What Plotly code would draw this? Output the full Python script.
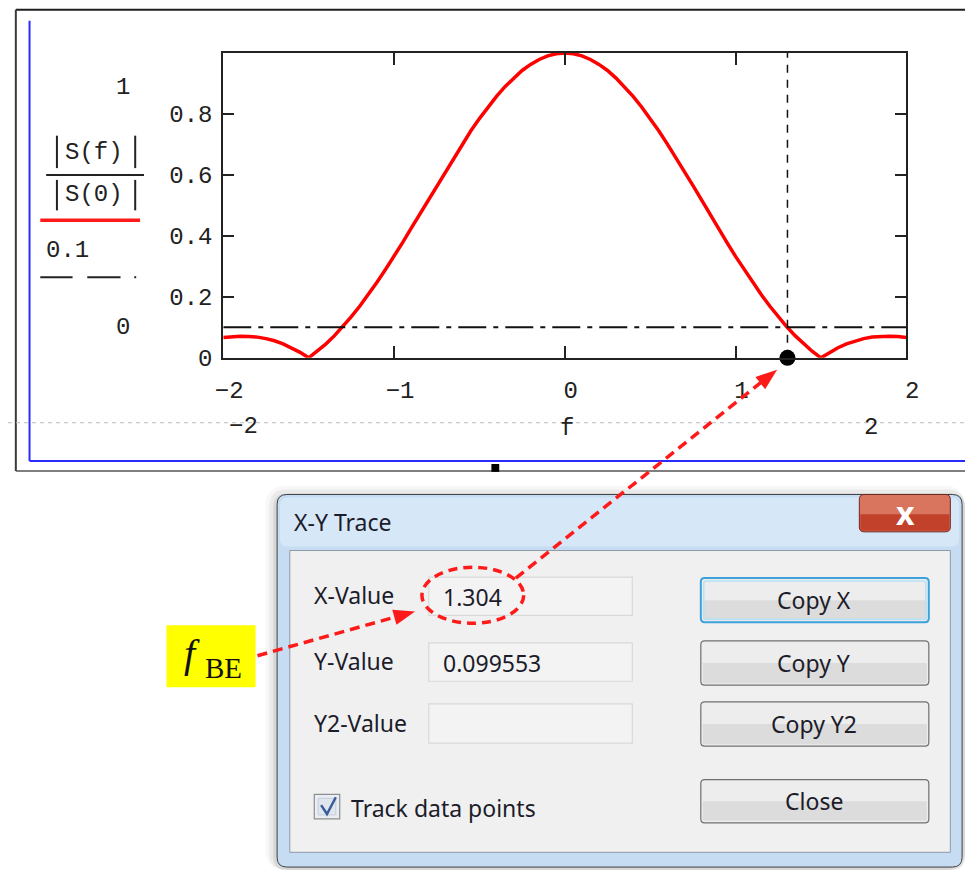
import math
import plotly.graph_objects as go

# ---- data -------------------------------------------------------------
f_hz = [-2.00, -1.95, -1.90, -1.85, -1.80, -1.75, -1.70, -1.65, -1.60, -1.55,
        -1.50, -1.45, -1.40, -1.35, -1.30, -1.25, -1.20, -1.15, -1.10, -1.05,
        -1.00, -0.95, -0.90, -0.85, -0.80, -0.75, -0.70, -0.65, -0.60, -0.55,
        -0.50, -0.45, -0.40, -0.35, -0.30, -0.25, -0.20, -0.15, -0.10, -0.05,
        0.00, 0.05, 0.10, 0.15, 0.20, 0.25, 0.30, 0.35, 0.40, 0.45,
        0.50, 0.55, 0.60, 0.65, 0.70, 0.75, 0.80, 0.85, 0.90, 0.95,
        1.00, 1.05, 1.10, 1.15, 1.20, 1.25, 1.30, 1.35, 1.40, 1.45,
        1.50, 1.55, 1.60, 1.65, 1.70, 1.75, 1.80, 1.85, 1.90, 1.95, 2.00]

s_ratio = [0.067, 0.070, 0.071, 0.070, 0.068, 0.063, 0.056, 0.046, 0.033, 0.018,
           0.000, 0.021, 0.045, 0.072, 0.102, 0.135, 0.170, 0.208, 0.248, 0.290,
           0.333, 0.378, 0.425, 0.471, 0.519, 0.566, 0.612, 0.658, 0.702, 0.745,
           0.785, 0.823, 0.858, 0.890, 0.918, 0.943, 0.963, 0.979, 0.991, 0.998,
           1.000, 0.998, 0.991, 0.979, 0.963, 0.943, 0.918, 0.890, 0.858, 0.823,
           0.785, 0.745, 0.702, 0.658, 0.612, 0.566, 0.519, 0.471, 0.425, 0.378,
           0.333, 0.290, 0.248, 0.208, 0.170, 0.135, 0.102, 0.072, 0.045, 0.021,
           0.000, 0.018, 0.033, 0.046, 0.056, 0.063, 0.068, 0.070, 0.071, 0.070, 0.067]

level = 0.1                      # threshold drawn as the dash-dot line
trace_x = 1.304                  # X-Y trace cursor position
trace_y = 0.099553               # value at the cursor
x_ticks = [-2, -1, 0, 1, 2]
x_ticktext = ["\u22122", "\u22121", "0", "1", "2"]
y_ticks = [0, 0.2, 0.4, 0.6, 0.8]
y_ticktext = ["0", "0.2", "0.4", "0.6", "0.8"]
x_lim = (-2, 2)
y_lim = (0, 1)

# ---- page geometry helpers (pixel -> paper) ---------------------------
W, H = 979, 886


def px(x):
    return min(max(x, 0), W) / W


def py(y):
    return 1 - min(max(y, 0), H) / H


MONO = "Liberation Mono"
UI = "Noto Sans"
SERIF = "Liberation Serif"
INK = "#222222"
UI_INK = "#1c1c2a"
RED = "#ff1a1a"

shapes = []
annotations = []


def line(x0, y0, x1, y1, color, width=1, dash=None):
    d = dict(type="line", xref="paper", yref="paper",
             x0=px(x0), y0=py(y0), x1=px(x1), y1=py(y1),
             line=dict(color=color, width=width))
    if dash:
        d["line"]["dash"] = dash
    shapes.append(d)


def rect(x0, y0, x1, y1, fill, color=None, width=0):
    shapes.append(dict(type="rect", xref="paper", yref="paper",
                       x0=px(x0), y0=py(y0), x1=px(x1), y1=py(y1),
                       fillcolor=fill,
                       line=dict(color=color or fill, width=width)))


def rrect(x0, y0, x1, y1, r, fill, color=None, width=0):
    def P(x, y):
        return f"{px(x):.6f},{py(y):.6f}"
    path = (f"M {P(x0 + r, y0)} L {P(x1 - r, y0)} Q {P(x1, y0)} {P(x1, y0 + r)} "
            f"L {P(x1, y1 - r)} Q {P(x1, y1)} {P(x1 - r, y1)} "
            f"L {P(x0 + r, y1)} Q {P(x0, y1)} {P(x0, y1 - r)} "
            f"L {P(x0, y0 + r)} Q {P(x0, y0)} {P(x0 + r, y0)} Z")
    shapes.append(dict(type="path", xref="paper", yref="paper", path=path,
                       fillcolor=fill,
                       line=dict(color=color or "rgba(0,0,0,0)", width=width)))


def poly(pts, fill, color=None, width=0, closed=True):
    s = "M " + " L ".join(f"{px(x):.6f},{py(y):.6f}" for x, y in pts)
    if closed:
        s += " Z"
    shapes.append(dict(type="path", xref="paper", yref="paper", path=s,
                       fillcolor=fill if closed else None,
                       line=dict(color=color or "rgba(0,0,0,0)", width=width)))


def text(x, y, s, size, family=MONO, color=INK, xanchor="center", **kw):
    annotations.append(dict(xref="paper", yref="paper", x=px(x), y=py(y),
                            text=s, showarrow=False, xanchor=xanchor,
                            yanchor="middle",
                            font=dict(family=family, size=size, color=color),
                            **kw))


def dashed_arrow(x0, y0, x1, y1, head=22, half=8):
    dx, dy = x1 - x0, y1 - y0
    n = math.hypot(dx, dy)
    ux, uy = dx / n, dy / n
    bx, by = x1 - head * ux, y1 - head * uy
    line(x0, y0, bx + 2 * ux, by + 2 * uy, RED, 3.5, "10px,6px")
    poly([(x1, y1), (bx - half * uy, by + half * ux), (bx + half * uy, by - half * ux)], RED)


# ---- worksheet frame around the graph ---------------------------------
line(8, 10, 978, 10, "#1e1e1e", 2)
line(8, 10, 8, 479, "#3a3a3a", 2)
line(8, 479, 978, 479, "#555555", 1.5)
line(22, 21, 22, 469, "#2a2aff", 2)
line(22, 469, 978, 469, "#2a2aff", 2)
line(0, 430, 978, 430, "#bdbdbd", 1, "4px,4px")
rect(494, 472, 502, 480, "#000000")

# y-axis expression: |S(f)| / |S(0)| with its legend line, and 0.1
text(118, 89, "1", 24)
text(118, 333, "0", 24)
text(88, 155, "S(f)", 24)
line(50, 138, 50, 171, INK, 2)
line(130, 138, 130, 171, INK, 2)
line(39, 178, 139, 178, INK, 2)
text(88, 198, "S(0)", 24)
line(50, 183, 50, 214, INK, 2)
line(130, 183, 130, 214, INK, 2)
line(33, 224, 135, 224, RED, 3.5)
text(61, 255, "0.1", 24)
line(33, 282, 66, 282, INK, 2)
line(81, 282, 115, 282, INK, 2)
line(129, 282, 131, 282, INK, 2)

# x-axis limit labels and variable name
text(241, 434, "\u22122", 24)
text(571, 436, "f", 24)
text(882, 435, "2", 24)

# ---- X-Y Trace dialog -------------------------------------------------
# soft drop shadow, kept inside the page
for k, a in [(3, 0.03), (2, 0.05), (1, 0.08)]:
    s = 4 * k
    rrect(275 - s, 503 - s + 3, min(975 + s, 978), min(882 + s, 885), 10 + s,
          f"rgba(0,0,0,{a})")
rrect(275, 503, 975, 882, 10, "#c6dcf3", "#3f3f3f", 1)
rrect(278, 506, 972, 556, 8, "#d6e7f8")
rect(288, 560, 963, 867, "#f0f0f0", "#8f9aa6", 1)
text(290, 531, "X-Y Trace", 23, UI, UI_INK, xanchor="left")

# close button
rrect(870, 503, 963, 541, 5, "#d9745f", "#6e2a20", 1)
rect(871, 523, 962, 540, "#c2412b")
text(917, 521, "<b>x</b>", 32, UI, "#ffffff")

# value labels and fields
field_rows = [("X-Value", 605, 587, 626, f"{trace_x:.3f}"),
              ("Y-Value", 672, 654, 693, f"{trace_y:.6f}"),
              ("Y2-Value", 735, 716, 756, "")]
for label, ty, y0, y1, val in field_rows:
    text(311, ty, label, 23, UI, UI_INK, xanchor="left")
    rect(430, y0, 638, y1, "#f3f3f3", "#d9d9d9", 1.2)
    if val:
        text(442, (y0 + y1) / 2 + 1, val, 23, UI, UI_INK, xanchor="left")

# buttons
buttons = [("Copy X", 588, 633, True), ("Copy Y", 652, 697, False),
           ("Copy Y2", 714, 759, False), ("Close", 793, 837, False)]
for label, y0, y1, focused in buttons:
    mid = (y0 + y1) / 2
    rrect(708, y0, 941, y1, 4, "#ededed")
    rect(710, mid, 939, y1 - 2, "#dcdcdc")
    if focused:
        rrect(708, y0, 941, y1, 4, "rgba(0,0,0,0)", "#3da2dc", 2)
        rrect(711, y0 + 3, 938, y1 - 3, 3, "rgba(0,0,0,0)", "#b6e2f7", 1.5)
    else:
        rrect(708, y0, 941, y1, 4, "rgba(0,0,0,0)", "#707070", 1.2)
    text(824, mid, label, 23, UI, UI_INK)

# checkbox
rect(313, 808, 339, 833, "#e9eef4", "#8e8f8f", 1.2)
rect(317, 812, 335, 829, "#dfe6ee", "#c4ccd6", 1)
poly([(320, 819), (326, 828), (335, 811)], None, "#3b5c9c", 2.5, closed=False)
text(348, 822, "Track data points", 23, UI, UI_INK, xanchor="left")

# f_BE tag
rect(162, 636, 253, 699, "#ffff00")
text(188, 665, "<i>f</i>", 40, SERIF, "#111111")
text(199, 680, "BE", 29, SERIF, "#111111", xanchor="left")

# red call-outs: ellipse round the X value, arrows to the graph marker
shapes.append(dict(type="circle", xref="paper", yref="paper",
                   x0=px(423), x1=px(527), y0=py(634), y1=py(577),
                   line=dict(color=RED, width=3.5, dash="9px,6px")))
dashed_arrow(519, 588, 786, 376)
dashed_arrow(255, 667, 416, 622)

# ---- graph ------------------------------------------------------------
fig = go.Figure()
fig.add_trace(go.Scatter(x=f_hz, y=s_ratio, mode="lines",
                         line=dict(color="#ff0000", width=3.5),
                         hoverinfo="skip"))
fig.add_trace(go.Scatter(x=list(x_lim), y=[level, level], mode="lines",
                         line=dict(color="#111111", width=2, dash="28px,7px,5px,7px"),
                         hoverinfo="skip"))
fig.add_trace(go.Scatter(x=[trace_x, trace_x], y=list(y_lim), mode="lines",
                         line=dict(color="#111111", width=1.5, dash="8px,7px"),
                         hoverinfo="skip"))
fig.add_trace(go.Scatter(x=[trace_x], y=[0], mode="markers",
                         marker=dict(color="#000000", size=16),
                         cliponaxis=False, hoverinfo="skip"))

axis_common = dict(showgrid=False, zeroline=False, showline=True,
                   linecolor="#222222", linewidth=2, mirror="ticks",
                   ticks="inside", tickcolor="#222222", tickwidth=2,
                   tickfont=dict(family=MONO, size=24, color=INK))

fig.update_layout(
    width=W, height=H,
    margin=dict(l=0, r=0, t=0, b=0),
    paper_bgcolor="#ffffff", plot_bgcolor="#ffffff",
    showlegend=False,
    xaxis=dict(domain=[px(220), px(918)], range=list(x_lim),
               tickvals=x_ticks, ticktext=x_ticktext,
               ticklen=12, ticklabelshift=6, ticklabelstandoff=9, **axis_common),
    yaxis=dict(domain=[py(364), py(54)], range=list(y_lim),
               tickvals=y_ticks, ticktext=y_ticktext, ticklen=11,
               ticklabelstandoff=4, **axis_common),
    shapes=shapes,
    annotations=annotations,
)

# pin the graph div to the page origin so the page is exactly W x H
page_css = (
    "var de=document.documentElement, b=document.body;"
    "de.style.margin='0'; de.style.padding='0'; de.style.overflow='hidden';"
    "b.style.margin='0'; b.style.padding='0'; b.style.overflow='hidden';"
    "var g=document.getElementById('{plot_id}');"
    "g.style.position='absolute'; g.style.left='0px'; g.style.top='0px';"
)
fig.write_html("out.html", config={"displayModeBar": False},
               post_script=page_css)
